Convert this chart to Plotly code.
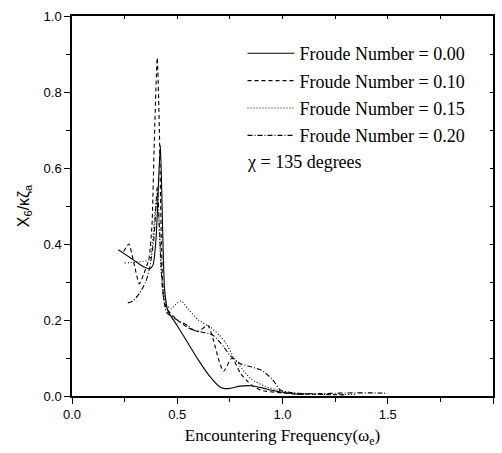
import plotly.graph_objects as go

x_fn000 = [0.22, 0.26, 0.30, 0.34, 0.37, 0.385, 0.40, 0.41, 0.42, 0.43, 0.44, 0.455, 0.5, 0.55, 0.6, 0.65, 0.7, 0.72, 0.75, 0.8, 0.85, 0.9, 0.95, 1.0, 1.05, 1.1]
y_fn000 = [0.385, 0.37, 0.355, 0.34, 0.335, 0.345, 0.42, 0.55, 0.66, 0.45, 0.28, 0.225, 0.185, 0.14, 0.095, 0.055, 0.025, 0.02, 0.02, 0.026, 0.027, 0.022, 0.015, 0.01, 0.006, 0.004]

x_fn010 = [0.245, 0.27, 0.29, 0.32, 0.34, 0.365, 0.38, 0.39, 0.405, 0.415, 0.425, 0.435, 0.45, 0.5, 0.55, 0.6, 0.645, 0.67, 0.7, 0.72, 0.76, 0.8, 0.85, 0.9, 1.0, 1.1, 1.2, 1.3]
y_fn010 = [0.38, 0.40, 0.36, 0.295, 0.32, 0.36, 0.45, 0.65, 0.89, 0.70, 0.40, 0.26, 0.23, 0.20, 0.18, 0.17, 0.186, 0.15, 0.09, 0.065, 0.10, 0.06, 0.03, 0.015, 0.008, 0.005, 0.004, 0.003]

x_fn015 = [0.25, 0.3, 0.35, 0.37, 0.385, 0.40, 0.41, 0.425, 0.45, 0.47, 0.5, 0.52, 0.55, 0.6, 0.66, 0.70, 0.73, 0.77, 0.85, 0.92, 0.98, 1.05, 1.15, 1.25, 1.35]
y_fn015 = [0.35, 0.352, 0.355, 0.36, 0.42, 0.51, 0.48, 0.32, 0.24, 0.23, 0.245, 0.25, 0.23, 0.20, 0.18, 0.16, 0.14, 0.10, 0.045, 0.025, 0.015, 0.008, 0.005, 0.004, 0.004]

x_fn020 = [0.265, 0.29, 0.32, 0.35, 0.37, 0.39, 0.405, 0.415, 0.43, 0.45, 0.5, 0.55, 0.58, 0.62, 0.67, 0.72, 0.75, 0.8, 0.85, 0.9, 0.95, 0.99, 1.05, 1.15, 1.3, 1.45, 1.5]
y_fn020 = [0.245, 0.25, 0.27, 0.30, 0.34, 0.42, 0.55, 0.45, 0.28, 0.22, 0.20, 0.185, 0.173, 0.168, 0.16, 0.13, 0.107, 0.085, 0.077, 0.068, 0.045, 0.016, 0.008, 0.006, 0.008, 0.008, 0.007]

series_names = ["Froude Number = 0.00", "Froude Number = 0.10", "Froude Number = 0.15", "Froude Number = 0.20"]
dashes = ["solid", "4px,3px", "1px,2px", "5px,2px,1px,2px"]

x_ticks = [0.0, 0.5, 1.0, 1.5, 2.0]
y_ticks = [0.0, 0.2, 0.4, 0.6, 0.8, 1.0]

serif = "Liberation Serif"
sans = "Liberation Sans"

fig = go.Figure()
for i, (xs, ys) in enumerate([(x_fn000, y_fn000), (x_fn010, y_fn010), (x_fn015, y_fn015), (x_fn020, y_fn020)]):
    fig.add_trace(go.Scatter(
        x=xs, y=ys, mode="lines", name=series_names[i],
        line=dict(color="black", width=1.1, dash=dashes[i], shape="spline", smoothing=0.6),
        legendgroup=f"g{i}",
    ))

fig.add_trace(go.Scatter(x=[0], y=[0], xaxis="x2", yaxis="y2", mode="markers",
                         marker=dict(opacity=0), showlegend=False, hoverinfo="skip"))

fig.update_layout(
    width=502, height=453,
    margin=dict(l=72, r=9, t=14, b=57),
    paper_bgcolor="white", plot_bgcolor="white",
    font=dict(family=serif, color="black"),
    showlegend=True,
    legend=dict(
        x=0.405, y=0.950, xanchor="left", yanchor="top",
        font=dict(family=serif, size=18, color="black"),
        bgcolor="rgba(0,0,0,0)", tracegroupgap=1, traceorder="grouped",
        itemwidth=47,
    ),
    xaxis=dict(
        range=[0, 2], tickvals=x_ticks, ticktext=["0.0", "0.5", "1.0", "1.5", "2.0"],
        ticks="outside", ticklen=6, tickwidth=1.2, tickcolor="black",
        minor=dict(dtick=0.25, ticks="outside", ticklen=4, tickcolor="black"),
        showline=True, linecolor="black", linewidth=1.5, showgrid=False, zeroline=False,
        tickfont=dict(family=sans, size=13, color="black"),
        title=dict(text="Encountering Frequency(ω<sub>e</sub>)", font=dict(family=serif, size=17, color="black"), standoff=8),
    ),
    yaxis=dict(
        range=[0, 1], tickvals=y_ticks, ticktext=["0.0", "0.2", "0.4", "0.6", "0.8", "1.0"],
        ticks="outside", ticklen=6, tickwidth=1.2, tickcolor="black",
        minor=dict(dtick=0.1, ticks="outside", ticklen=4, tickcolor="black"),
        showline=True, linecolor="black", linewidth=1.5, showgrid=False, zeroline=False,
        tickfont=dict(family=sans, size=13, color="black"),
        title=dict(text="X<sub>6</sub>/κζ<sub>a</sub>", font=dict(family=sans, size=16, color="black"), standoff=10),
    ),
    xaxis2=dict(
        overlaying="x", side="top", range=[0, 2], tickvals=[0.25 * k for k in range(9)],
        ticks="inside", ticklen=3, tickcolor="black", showticklabels=False,
        showline=True, linecolor="black", linewidth=1.5, showgrid=False, zeroline=False,
    ),
    yaxis2=dict(
        overlaying="y", side="right", range=[0, 1], tickvals=[0.1 * k for k in range(11)],
        ticks="inside", ticklen=3, tickcolor="black", showticklabels=False,
        showline=True, linecolor="black", linewidth=1.5, showgrid=False, zeroline=False,
    ),
    annotations=[dict(
        text="χ = 135 degrees", x=0.412, y=0.6165, xref="paper", yref="paper",
        xanchor="left", yanchor="middle", showarrow=False,
        font=dict(family=serif, size=18, color="black"),
    )],
)

fig.write_html("out.html")
